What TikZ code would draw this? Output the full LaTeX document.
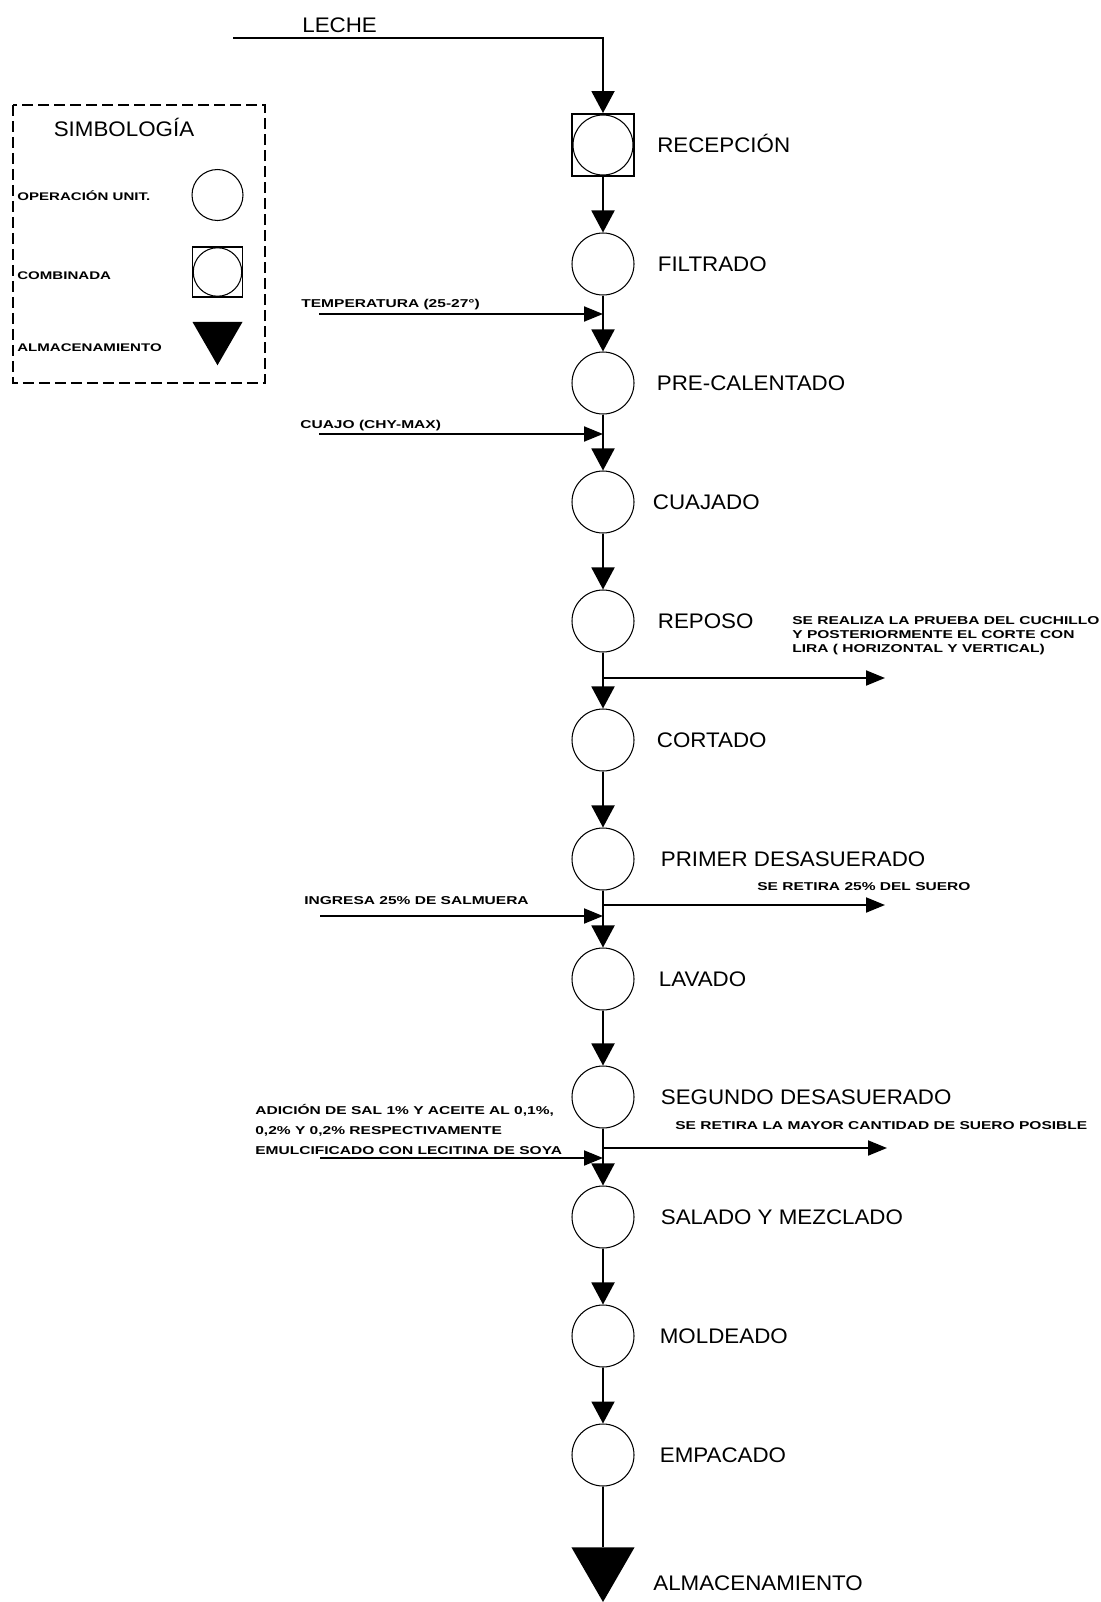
\documentclass[tikz,border=0pt]{standalone}
\usepackage{fontspec}
\setmainfont{Liberation Sans}
\newfontfamily\stepfont[FakeStretch=1.06]{Liberation Sans}
\newfontfamily\notefont[FakeStretch=1.36]{Liberation Sans}
\usetikzlibrary{shapes.geometric,positioning,arrows.meta}

\tikzset{
  opcircle/.style={circle, draw, line width=0.6pt, minimum size=1.24cm, inner sep=0pt},
  combsquare/.style={rectangle, draw, line width=1.1pt, minimum size=1.24cm, inner sep=0pt},
  storetri/.style={regular polygon, regular polygon sides=3, shape border rotate=180,
    fill=black, draw=none, minimum size=1.456cm, inner sep=0pt},
  steplabel/.style={font=\stepfont\fontsize{12}{14}\selectfont, inner sep=0pt,
    text height=8.6pt, text depth=0pt, anchor=west},
  notelabel/.style={font=\notefont\bfseries\fontsize{6.5}{8}\selectfont, inner sep=0pt,
    text height=4.6pt, text depth=0pt, anchor=west},
  leglabel/.style={notelabel, font=\notefont\bfseries\fontsize{6.3}{8}\selectfont},
  notebox/.style={font=\notefont\bfseries\fontsize{6.5}{8}\selectfont, inner sep=0pt,
    align=left, anchor=north west},
  mainarrow/.style={line width=1.1pt, -{Triangle[width=0.46cm, length=0.44cm]}},
  sidearrow/.style={line width=1.1pt, -{Triangle[width=0.3cm, length=0.38cm]}},
  legendbox/.style={line width=0.8pt, dash pattern=on 0.22cm off 0.1cm},
}

\begin{document}
\begin{tikzpicture}[x=0.02cm, y=-0.02cm]
    \useasboundingbox (0,0) rectangle (1101,1602);

    % legend
    \draw[legendbox] (13,105) rectangle (265,383);
    \node[steplabel, anchor=center] (simbtitle) at (124,129) {SIMBOLOGÍA};
    \node[opcircle, minimum size=1.02cm] (legop) at (217.5,195) {};
    \node[combsquare, minimum size=1.0cm, line width=0.9pt] (legcomb) at (217.5,272) {};
    \node[opcircle, minimum size=0.97cm] (legcombcirc) at (legcomb) {};
    \node[storetri, minimum size=1.155cm] (legstore) at (217.5,336.4) {};
    \node[leglabel] (legoplbl) at (17,196) {OPERACIÓN UNIT.};
    \node[leglabel] (legcomblbl) at (17,275) {COMBINADA};
    \node[leglabel] (legstorelbl) at (17,347) {ALMACENAMIENTO};

    % process steps
    \node[combsquare] (recepcion) at (603,145) {};
    \node[opcircle, minimum size=1.2cm] (recepcioncirc) at (recepcion) {};
    \node[opcircle] (filtrado) at (603,264) {};
    \node[opcircle] (precalentado) at (603,383) {};
    \node[opcircle] (cuajado) at (603,502) {};
    \node[opcircle] (reposo) at (603,621) {};
    \node[opcircle] (cortado) at (603,740) {};
    \node[opcircle] (primdes) at (603,859) {};
    \node[opcircle] (lavado) at (603,979) {};
    \node[opcircle] (segdes) at (603,1097) {};
    \node[opcircle] (salado) at (603,1217) {};
    \node[opcircle] (moldeado) at (603,1336) {};
    \node[opcircle] (empacado) at (603,1455) {};
    \node[storetri] (almacen) at (603,1565.6) {};

    \node[steplabel, right=0.44cm of recepcion] (recepcionlbl) {RECEPCIÓN};
    \node[steplabel, right=0.46cm of filtrado] (filtradolbl) {FILTRADO};
    \node[steplabel, right=0.44cm of precalentado] (precalentadolbl) {PRE-CALENTADO};
    \node[steplabel, right=0.36cm of cuajado] (cuajadolbl) {CUAJADO};
    \node[steplabel, right=0.46cm of reposo] (reposolbl) {REPOSO};
    \node[steplabel, right=0.44cm of cortado] (cortadolbl) {CORTADO};
    \node[steplabel, right=0.52cm of primdes] (primdeslbl) {PRIMER DESASUERADO};
    \node[steplabel, right=0.48cm of lavado] (lavadolbl) {LAVADO};
    \node[steplabel, right=0.52cm of segdes] (segdeslbl) {SEGUNDO DESASUERADO};
    \node[steplabel, right=0.52cm of salado] (saladolbl) {SALADO Y MEZCLADO};
    \node[steplabel, right=0.5cm of moldeado] (moldeadolbl) {MOLDEADO};
    \node[steplabel, right=0.5cm of empacado] (empacadolbl) {EMPACADO};
    \node[steplabel] (almacenlbl) at (653,1583) {ALMACENAMIENTO};

    % main flow
    \node[steplabel] (lechelbl) at (302,25) {LECHE};
    \coordinate (lechein) at (233,38);
    \draw[mainarrow] (lechein) -| (recepcion.north);
    \foreach \a/\b in {recepcion/filtrado, filtrado/precalentado, precalentado/cuajado,
        cuajado/reposo, reposo/cortado, cortado/primdes, primdes/lavado, lavado/segdes,
        segdes/salado, salado/moldeado, moldeado/empacado}
        \draw[mainarrow] (\a.south) -- (\b.north);
    \draw[line width=1.1pt] (empacado.south) -- (almacen.north);

    % inputs
    \coordinate (tempin) at (319,314);
    \node[notelabel] (templbl) at (301,303) {TEMPERATURA (25-27°)};
    \draw[sidearrow] (tempin) -- (tempin -| filtrado);

    \coordinate (cuajoin) at (319,434);
    \node[notelabel] (cuajolbl) at (300,424) {CUAJO (CHY-MAX)};
    \draw[sidearrow] (cuajoin) -- (cuajoin -| precalentado);

    \coordinate (salmin) at (320,916);
    \node[notelabel] (salmlbl) at (304,900) {INGRESA 25\% DE SALMUERA};
    \draw[sidearrow] (salmin) -- (salmin -| primdes);

    \coordinate (salin) at (320,1158);
    \node[notebox, font=\notefont\bfseries\fontsize{6.5}{11.4}\selectfont] (sallbl) at (255,1104)
        {ADICIÓN DE SAL 1\% Y ACEITE AL 0,1\%,\\0,2\% Y 0,2\% RESPECTIVAMENTE\\EMULCIFICADO CON LECITINA DE SOYA};
    \draw[sidearrow] (salin) -- (salin -| segdes);

    % outputs
    \coordinate (reposout) at (885,678);
    \draw[sidearrow] (reposout -| reposo) -- (reposout);
    \node[notebox] (reposnote) at (792,616.5)
        {SE REALIZA LA PRUEBA DEL CUCHILLO\\Y POSTERIORMENTE EL CORTE CON\\LIRA ( HORIZONTAL Y VERTICAL)};

    \coordinate (primout) at (885,905);
    \draw[sidearrow] (primout -| primdes) -- (primout);
    \node[notelabel] (primnote) at (757,886) {SE RETIRA 25\% DEL SUERO};

    \coordinate (segout) at (887,1148);
    \draw[sidearrow] (segout -| segdes) -- (segout);
    \node[notelabel] (segnote) at (675,1125) {SE RETIRA LA MAYOR CANTIDAD DE SUERO POSIBLE};
\end{tikzpicture}
\end{document}
